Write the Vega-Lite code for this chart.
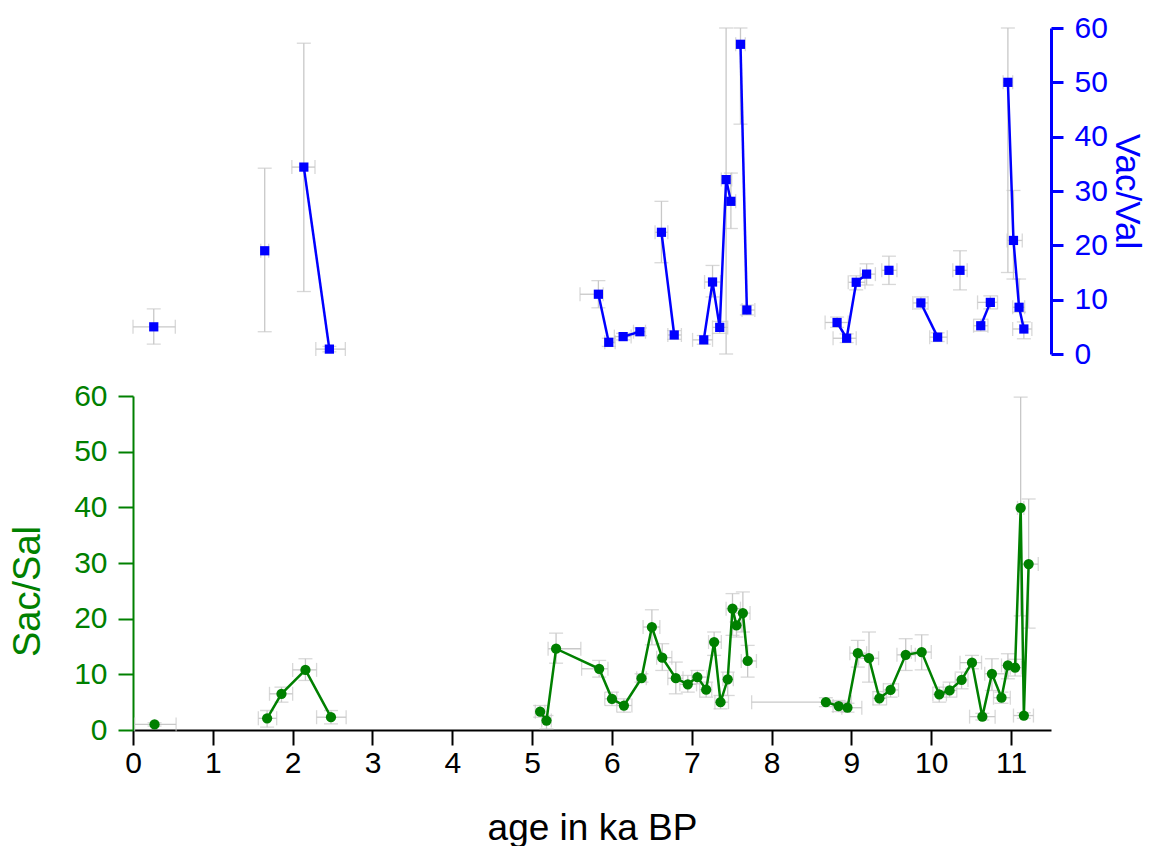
{
  "$schema": "https://vega.github.io/schema/vega-lite/v6.json",
  "padding": {"left": 9, "top": 13, "right": 12, "bottom": 0},
  "autosize": {"type": "pad"},
  "background": "white",
  "config": {"view": {"stroke": null}, "font": "Liberation Sans", "concat": {"spacing": 12}},
  "datasets": {
    "vac": [
      {"x": 0.26, "y": 5.0, "ylo": 1.8, "yhi": 8.3, "xlo": 0.0, "xhi": 0.53, "seg": 1},
      {"x": 1.65, "y": 19.0, "ylo": 4.1, "yhi": 34.2, "xlo": 1.6, "xhi": 1.7, "seg": 2},
      {"x": 2.14, "y": 34.4, "ylo": 11.5, "yhi": 57.2, "xlo": 1.99, "xhi": 2.28, "seg": 3},
      {"x": 2.46, "y": 0.9, "ylo": 0.4, "yhi": 1.4, "xlo": 2.29, "xhi": 2.66, "seg": 3},
      {"x": 5.83, "y": 11.0, "ylo": 8.5, "yhi": 13.5, "xlo": 5.6, "xhi": 5.89, "seg": 4},
      {"x": 5.96, "y": 2.15, "ylo": 1.4, "yhi": 2.9, "xlo": 5.91, "xhi": 6.04, "seg": 4},
      {"x": 6.14, "y": 3.2, "ylo": 2.6, "yhi": 3.8, "xlo": 6.03, "xhi": 6.24, "seg": 5},
      {"x": 6.35, "y": 4.1, "ylo": 3.4, "yhi": 4.8, "xlo": 6.27, "xhi": 6.42, "seg": 5},
      {"x": 6.62, "y": 22.4, "ylo": 16.8, "yhi": 28.1, "xlo": 6.54, "xhi": 6.7, "seg": 6},
      {"x": 6.78, "y": 3.5, "ylo": 2.7, "yhi": 4.3, "xlo": 6.7, "xhi": 6.87, "seg": 6},
      {"x": 7.15, "y": 2.6, "ylo": 1.8, "yhi": 3.4, "xlo": 7.01, "xhi": 7.26, "seg": 7},
      {"x": 7.26, "y": 13.25, "ylo": 10.5, "yhi": 16.3, "xlo": 7.16, "xhi": 7.36, "seg": 7},
      {"x": 7.35, "y": 4.9, "ylo": 3.8, "yhi": 6.0, "xlo": 7.26, "xhi": 7.45, "seg": 7},
      {"x": 7.43, "y": 32.1, "ylo": 0, "yhi": 60, "xlo": 7.37, "xhi": 7.5, "seg": 7},
      {"x": 7.49, "y": 28.1, "ylo": 23.1, "yhi": 33.3, "xlo": 7.43, "xhi": 7.55, "seg": 7},
      {"x": 7.61, "y": 57.0, "ylo": 42.3, "yhi": 60, "xlo": 7.55, "xhi": 7.67, "seg": 8},
      {"x": 7.69, "y": 8.1, "ylo": 7.2, "yhi": 9.0, "xlo": 7.63, "xhi": 7.79, "seg": 8},
      {"x": 8.82, "y": 5.8, "ylo": 4.9, "yhi": 6.8, "xlo": 8.67, "xhi": 8.96, "seg": 9},
      {"x": 8.94, "y": 2.9, "ylo": 2.1, "yhi": 3.7, "xlo": 8.77, "xhi": 9.06, "seg": 9},
      {"x": 9.06, "y": 13.2, "ylo": 11.8, "yhi": 14.4, "xlo": 8.96, "xhi": 9.17, "seg": 9},
      {"x": 9.19, "y": 14.7, "ylo": 12.7, "yhi": 16.6, "xlo": 9.11, "xhi": 9.3, "seg": 9},
      {"x": 9.47, "y": 15.4, "ylo": 12.8, "yhi": 18.0, "xlo": 9.38, "xhi": 9.57, "seg": 10},
      {"x": 9.87, "y": 9.4, "ylo": 8.3, "yhi": 10.5, "xlo": 9.77, "xhi": 9.96, "seg": 11},
      {"x": 10.08, "y": 3.1, "ylo": 2.3, "yhi": 3.9, "xlo": 9.98, "xhi": 10.2, "seg": 11},
      {"x": 10.36, "y": 15.4, "ylo": 11.8, "yhi": 19.0, "xlo": 10.27, "xhi": 10.45, "seg": 12},
      {"x": 10.62, "y": 5.2, "ylo": 4.2, "yhi": 6.4, "xlo": 10.53, "xhi": 10.71, "seg": 13},
      {"x": 10.74, "y": 9.5, "ylo": 8.3, "yhi": 10.7, "xlo": 10.58, "xhi": 10.83, "seg": 13},
      {"x": 10.96, "y": 50.0, "ylo": 15.0, "yhi": 60, "xlo": 10.9, "xhi": 11.02, "seg": 14},
      {"x": 11.03, "y": 20.9, "ylo": 13.8, "yhi": 30.1, "xlo": 10.95, "xhi": 11.14, "seg": 14},
      {"x": 11.1, "y": 8.6, "ylo": 7.7, "yhi": 13.8, "xlo": 11.02, "xhi": 11.17, "seg": 14},
      {"x": 11.16, "y": 4.6, "ylo": 2.8, "yhi": 5.9, "xlo": 11.02, "xhi": 11.26, "seg": 14}
    ],
    "sac": [
      {"x": 0.27, "y": 1.0, "ylo": 0.7, "yhi": 1.3, "xlo": 0.02, "xhi": 0.54, "seg": 1},
      {"x": 1.68, "y": 2.1, "ylo": 0.5, "yhi": 3.5, "xlo": 1.57, "xhi": 1.8, "seg": 2},
      {"x": 1.86, "y": 6.5, "ylo": 5.0, "yhi": 7.7, "xlo": 1.71, "xhi": 2.0, "seg": 2},
      {"x": 2.16, "y": 10.8, "ylo": 8.9, "yhi": 12.8, "xlo": 2.0, "xhi": 2.3, "seg": 2},
      {"x": 2.48, "y": 2.3, "ylo": 1.1, "yhi": 3.5, "xlo": 2.3, "xhi": 2.67, "seg": 2},
      {"x": 5.1, "y": 3.3, "ylo": 2.3, "yhi": 4.4, "xlo": 5.04, "xhi": 5.16, "seg": 3},
      {"x": 5.18, "y": 1.7, "ylo": 0.2, "yhi": 2.6, "xlo": 5.12, "xhi": 5.24, "seg": 3},
      {"x": 5.3, "y": 14.6, "ylo": 12.0, "yhi": 17.4, "xlo": 5.2, "xhi": 5.61, "seg": 3},
      {"x": 5.84, "y": 11.0, "ylo": 9.5, "yhi": 12.5, "xlo": 5.62, "xhi": 5.95, "seg": 3},
      {"x": 6.0, "y": 5.6, "ylo": 4.4, "yhi": 6.8, "xlo": 5.91, "xhi": 6.06, "seg": 3},
      {"x": 6.15, "y": 4.4, "ylo": 3.2, "yhi": 5.6, "xlo": 6.06, "xhi": 6.25, "seg": 3},
      {"x": 6.37, "y": 9.3, "ylo": 8.6, "yhi": 10.1, "xlo": 6.31, "xhi": 6.43, "seg": 3},
      {"x": 6.5, "y": 18.5, "ylo": 15.3, "yhi": 21.6, "xlo": 6.39, "xhi": 6.6, "seg": 3},
      {"x": 6.63, "y": 13.0, "ylo": 10.7, "yhi": 15.5, "xlo": 6.56, "xhi": 6.75, "seg": 3},
      {"x": 6.8, "y": 9.3, "ylo": 6.5, "yhi": 12.2, "xlo": 6.7, "xhi": 6.89, "seg": 3},
      {"x": 6.95, "y": 8.2, "ylo": 6.8, "yhi": 9.8, "xlo": 6.85, "xhi": 7.06, "seg": 3},
      {"x": 7.07, "y": 9.5, "ylo": 8.3, "yhi": 10.7, "xlo": 7.0, "xhi": 7.19, "seg": 3},
      {"x": 7.18, "y": 7.25, "ylo": 5.9, "yhi": 8.6, "xlo": 7.1, "xhi": 7.25, "seg": 3},
      {"x": 7.28, "y": 15.8, "ylo": 13.4, "yhi": 17.6, "xlo": 7.21, "xhi": 7.37, "seg": 3},
      {"x": 7.36, "y": 5.0, "ylo": 3.8, "yhi": 6.2, "xlo": 7.29, "xhi": 7.46, "seg": 3},
      {"x": 7.45, "y": 9.1, "ylo": 6.2, "yhi": 10.4, "xlo": 7.39, "xhi": 7.52, "seg": 3},
      {"x": 7.51, "y": 21.8, "ylo": 17.0, "yhi": 24.5, "xlo": 7.43, "xhi": 7.61, "seg": 3},
      {"x": 7.56, "y": 18.8, "ylo": 16.7, "yhi": 19.4, "xlo": 7.51, "xhi": 7.62, "seg": 3},
      {"x": 7.64, "y": 21.0, "ylo": 17.6, "yhi": 24.8, "xlo": 7.52, "xhi": 7.73, "seg": 3},
      {"x": 7.7, "y": 12.4, "ylo": 9.5, "yhi": 15.2, "xlo": 7.62, "xhi": 7.81, "seg": 3},
      {"x": 8.68, "y": 5.0, "ylo": 4.2, "yhi": 5.8, "xlo": 7.75, "xhi": 9.0, "seg": 4},
      {"x": 8.84, "y": 4.3, "ylo": 3.3, "yhi": 5.3, "xlo": 8.77, "xhi": 8.98, "seg": 4},
      {"x": 8.95, "y": 4.0, "ylo": 3.2, "yhi": 4.8, "xlo": 8.88, "xhi": 9.13, "seg": 4},
      {"x": 9.08, "y": 13.8, "ylo": 11.3, "yhi": 16.1, "xlo": 8.98, "xhi": 9.19, "seg": 4},
      {"x": 9.22, "y": 12.9, "ylo": 8.6, "yhi": 17.6, "xlo": 9.09, "xhi": 9.34, "seg": 4},
      {"x": 9.35, "y": 5.7, "ylo": 4.5, "yhi": 6.9, "xlo": 9.27, "xhi": 9.44, "seg": 4},
      {"x": 9.49, "y": 7.2, "ylo": 5.9, "yhi": 8.3, "xlo": 9.4, "xhi": 9.59, "seg": 4},
      {"x": 9.68, "y": 13.5, "ylo": 10.7, "yhi": 16.4, "xlo": 9.57, "xhi": 9.8, "seg": 4},
      {"x": 9.88, "y": 14.0, "ylo": 10.8, "yhi": 17.1, "xlo": 9.75, "xhi": 10.0, "seg": 4},
      {"x": 10.1, "y": 6.4, "ylo": 5.0, "yhi": 7.7, "xlo": 10.02, "xhi": 10.19, "seg": 4},
      {"x": 10.23, "y": 7.1, "ylo": 5.9, "yhi": 8.6, "xlo": 10.15, "xhi": 10.32, "seg": 4},
      {"x": 10.38, "y": 9.0, "ylo": 7.4, "yhi": 10.4, "xlo": 10.3, "xhi": 10.46, "seg": 4},
      {"x": 10.51, "y": 12.1, "ylo": 11.0, "yhi": 13.4, "xlo": 10.36, "xhi": 10.63, "seg": 4},
      {"x": 10.64, "y": 2.4, "ylo": 1.8, "yhi": 3.0, "xlo": 10.48, "xhi": 10.8, "seg": 4},
      {"x": 10.76, "y": 10.1, "ylo": 7.1, "yhi": 12.8, "xlo": 10.67, "xhi": 10.92, "seg": 4},
      {"x": 10.88, "y": 5.8, "ylo": 4.8, "yhi": 6.8, "xlo": 10.78, "xhi": 10.99, "seg": 4},
      {"x": 10.96, "y": 11.6, "ylo": 9.2, "yhi": 13.7, "xlo": 10.88, "xhi": 11.07, "seg": 4},
      {"x": 11.05, "y": 11.2, "ylo": 9.7, "yhi": 12.7, "xlo": 10.99, "xhi": 11.13, "seg": 4},
      {"x": 11.12, "y": 39.9, "ylo": 20.5, "yhi": 59.8, "xlo": 11.08, "xhi": 11.16, "seg": 4},
      {"x": 11.16, "y": 2.6, "ylo": 2.1, "yhi": 3.1, "xlo": 11.03, "xhi": 11.28, "seg": 4},
      {"x": 11.22, "y": 29.8, "ylo": 18.3, "yhi": 41.5, "xlo": 11.11, "xhi": 11.34, "seg": 4}
    ]
  },
  "vconcat": [
    {
      "width": 918,
      "height": 326,
      "data": {"name": "vac"},
      "layer": [
        {
          "mark": {"type": "errorbar", "color": "#c8c8c8", "thickness": 1.3, "ticks": {"size": 14}},
          "encoding": {
            "x": {"field": "x", "type": "quantitative", "scale": {"domain": [0, 11.5], "nice": false}, "axis": null},
            "y": {"field": "ylo", "type": "quantitative", "scale": {"domain": [0, 60], "nice": false}, "title": "Vac/Val"},
            "y2": {"field": "yhi"}
          }
        },
        {
          "mark": {"type": "errorbar", "color": "#c8c8c8", "thickness": 1.3, "ticks": {"size": 14}},
          "encoding": {
            "x": {"field": "xlo", "type": "quantitative", "scale": {"domain": [0, 11.5], "nice": false}, "axis": null},
            "x2": {"field": "xhi"},
            "y": {"field": "y", "type": "quantitative", "scale": {"domain": [0, 60], "nice": false}, "title": "Vac/Val"}
          }
        },
        {
          "mark": {"type": "line", "color": "#0000ff", "strokeWidth": 2.5},
          "encoding": {
            "x": {"field": "x", "type": "quantitative", "scale": {"domain": [0, 11.5], "nice": false}, "axis": null},
            "y": {"field": "y", "type": "quantitative", "scale": {"domain": [0, 60], "nice": false}, "title": "Vac/Val"},
            "detail": {"field": "seg", "type": "nominal"},
            "order": {"field": "x", "type": "quantitative"}
          }
        },
        {
          "mark": {"type": "point", "shape": "square", "filled": true, "color": "#0000ff", "size": 85, "opacity": 1},
          "encoding": {
            "x": {"field": "x", "type": "quantitative", "scale": {"domain": [0, 11.5], "nice": false}, "axis": null},
            "y": {
              "field": "y", "type": "quantitative", "scale": {"domain": [0, 60], "nice": false},
              "title": "Vac/Val",
              "axis": {
                "orient": "right",
                "values": [0, 5, 10, 15, 20, 25, 30, 35, 40, 45, 50, 55, 60],
                "labelExpr": "datum.value % 10 == 0 ? datum.label : ''",
                "grid": false,
                "domainColor": "#0000ff", "domainWidth": 3,
                "tickColor": "#0000ff", "tickWidth": 3,
                "tickSize": {"condition": {"test": "datum.value % 10 == 0", "value": 12}, "value": 8},
                "labelColor": "#0000ff", "labelFontSize": 30, "labelPadding": 11,
                "titleColor": "#0000ff", "titleFontSize": 35, "titleFontWeight": "normal", "titlePadding": 1
              }
            }
          }
        }
      ]
    },
    {
      "width": 918,
      "height": 334,
      "data": {"name": "sac"},
      "layer": [
        {
          "mark": {"type": "errorbar", "color": "#c8c8c8", "thickness": 1.3, "ticks": {"size": 14}},
          "encoding": {
            "x": {"field": "x", "type": "quantitative", "scale": {"domain": [0, 11.5], "nice": false}, "title": "age in ka BP"},
            "y": {"field": "ylo", "type": "quantitative", "scale": {"domain": [0, 60], "nice": false}, "title": "Sac/Sal"},
            "y2": {"field": "yhi"}
          }
        },
        {
          "mark": {"type": "errorbar", "color": "#c8c8c8", "thickness": 1.3, "ticks": {"size": 14}},
          "encoding": {
            "x": {"field": "xlo", "type": "quantitative", "scale": {"domain": [0, 11.5], "nice": false}, "title": "age in ka BP"},
            "x2": {"field": "xhi"},
            "y": {"field": "y", "type": "quantitative", "scale": {"domain": [0, 60], "nice": false}, "title": "Sac/Sal"}
          }
        },
        {
          "mark": {"type": "line", "color": "#008000", "strokeWidth": 2.5},
          "encoding": {
            "x": {"field": "x", "type": "quantitative", "scale": {"domain": [0, 11.5], "nice": false}, "title": "age in ka BP"},
            "y": {"field": "y", "type": "quantitative", "scale": {"domain": [0, 60], "nice": false}, "title": "Sac/Sal"},
            "detail": {"field": "seg", "type": "nominal"},
            "order": {"field": "x", "type": "quantitative"}
          }
        },
        {
          "mark": {"type": "circle", "color": "#008000", "size": 105, "opacity": 1},
          "encoding": {
            "x": {
              "field": "x", "type": "quantitative", "scale": {"domain": [0, 11.5], "nice": false},
              "title": "age in ka BP",
              "axis": {
                "values": [0, 0.5, 1, 1.5, 2, 2.5, 3, 3.5, 4, 4.5, 5, 5.5, 6, 6.5, 7, 7.5, 8, 8.5, 9, 9.5, 10, 10.5, 11, 11.5],
                "labelExpr": "datum.value % 1 == 0 ? format(datum.value, 'd') : ''",
                "grid": false,
                "domainColor": "#000000", "domainWidth": 2,
                "tickColor": "#000000", "tickWidth": 2,
                "tickSize": {"condition": {"test": "datum.value % 1 == 0", "value": 15}, "value": 8},
                "labelColor": "#000000", "labelFontSize": 30, "labelPadding": 3, "labelFlush": false,
                "titleColor": "#000000", "titleFontSize": 37, "titleFontWeight": "normal", "titlePadding": 32
              }
            },
            "y": {
              "field": "y", "type": "quantitative", "scale": {"domain": [0, 60], "nice": false},
              "title": "Sac/Sal",
              "axis": {
                "orient": "left",
                "values": [0, 5, 10, 15, 20, 25, 30, 35, 40, 45, 50, 55, 60],
                "labelExpr": "datum.value % 10 == 0 ? datum.label : ''",
                "grid": false,
                "domainColor": "#008000", "domainWidth": 2,
                "tickColor": "#008000", "tickWidth": 2,
                "tickSize": {"condition": {"test": "datum.value % 10 == 0", "value": 15}, "value": 8},
                "labelColor": "#008000", "labelFontSize": 30, "labelPadding": 11,
                "titleColor": "#008000", "titleFontSize": 38, "titleFontWeight": "normal", "titlePadding": 26,
                "titleY": 195
              }
            }
          }
        }
      ]
    }
  ]
}
